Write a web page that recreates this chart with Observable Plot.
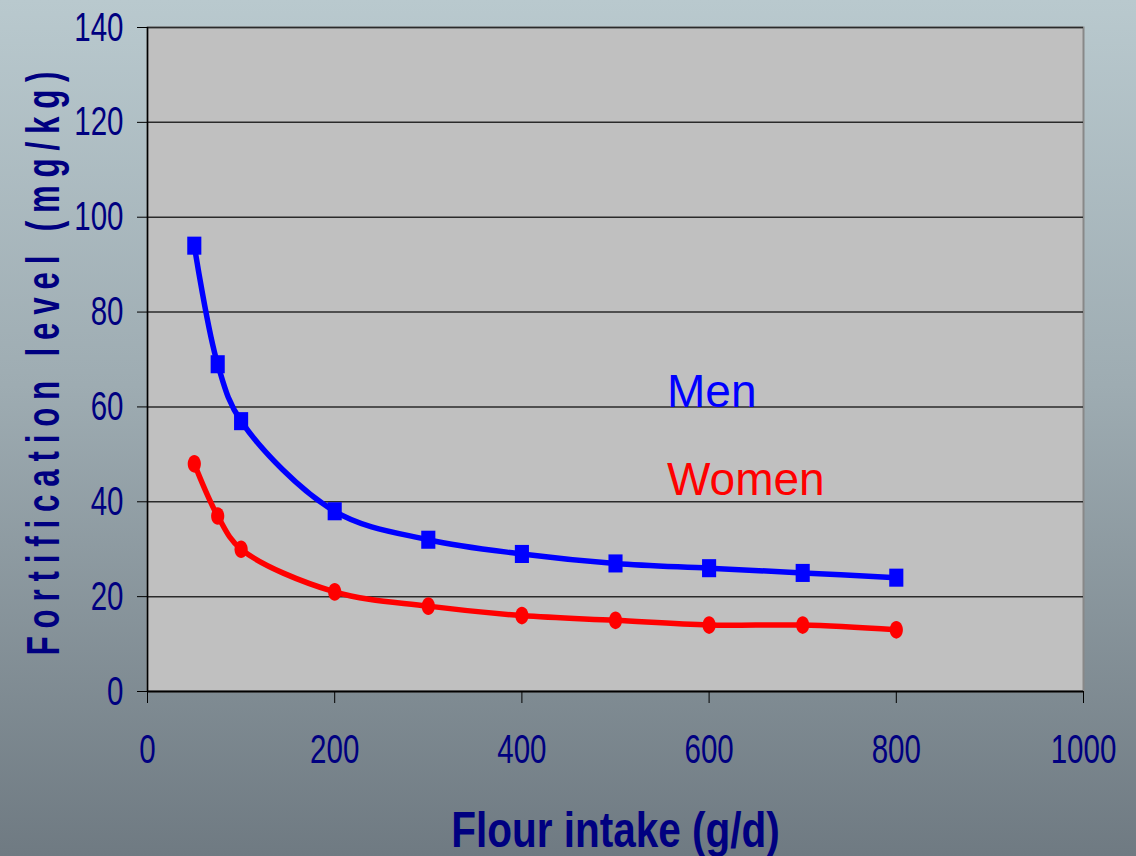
<!DOCTYPE html>
<html>
<head>
<meta charset="utf-8">
<script src="https://cdn.jsdelivr.net/npm/d3@7"></script>
<script src="https://cdn.jsdelivr.net/npm/@observablehq/plot@0.6"></script>
<style>
  html, body { margin: 0; padding: 0; }
  body { width: 1136px; height: 856px; overflow: hidden; }
</style>
</head>
<body>
<div id="chart"></div>
<script>
// Data
const flourIntake = [50, 75, 100, 200, 300, 400, 500, 600, 700, 800];
const menLevel    = [94, 69, 57, 38, 32, 29, 27, 26, 25, 24];
const womenLevel  = [48, 37, 30, 21, 18, 16, 15, 14, 14, 13];
const seriesNames = ["Men", "Women"];
const xTicks = [0, 200, 400, 600, 800, 1000];
const yTicks = [0, 20, 40, 60, 80, 100, 120, 140];
const xTitle = "Flour intake (g/d)";
const yTitle = "Fortification level (mg/kg)";

const men = flourIntake.map((x, i) => ({x, y: menLevel[i]}));
const women = flourIntake.map((x, i) => ({x, y: womenLevel[i]}));

const navy = "#000080";
const sans = "'Liberation Sans', Arial, sans-serif";

// Slightly tall marker shapes, as in the reference
const tallRect = {
  draw(context, size) {
    const r = Math.sqrt(size / Math.PI);
    const w = r * 0.82, h = r * 1.05;
    context.moveTo(-w, -h);
    context.lineTo(w, -h);
    context.lineTo(w, h);
    context.lineTo(-w, h);
    context.closePath();
  }
};
const tallEllipse = {
  draw(context, size) {
    const r = Math.sqrt(size / Math.PI);
    const rx = r * 0.75, ry = r * 1.0, k = 0.5523;
    context.moveTo(0, -ry);
    context.bezierCurveTo(k * rx, -ry, rx, -k * ry, rx, 0);
    context.bezierCurveTo(rx, k * ry, k * rx, ry, 0, ry);
    context.bezierCurveTo(-k * rx, ry, -rx, k * ry, -rx, 0);
    context.bezierCurveTo(-rx, -k * ry, -k * rx, -ry, 0, -ry);
    context.closePath();
  }
};

const plot = Plot.plot({
  width: 1136,
  height: 856,
  marginLeft: 147,
  marginRight: 53,
  marginTop: 27,
  marginBottom: 165,
  style: {
    background: "linear-gradient(to bottom, #b9c9ce 0%, #9eacb2 45%, #6f7a82 100%)",
    fontFamily: sans,
    overflow: "visible"
  },
  x: {domain: [0, 1000], ticks: xTicks},
  y: {domain: [0, 140], ticks: yTicks},
  marks: [
    Plot.frame({fill: "#c0c0c0", stroke: "#888888", strokeWidth: 2}),
    Plot.gridY(yTicks.filter(d => d > 0), {stroke: "#2a2a2a", strokeOpacity: 1, strokeWidth: 1.5}),
    Plot.axisY({
      ticks: yTicks, tickSize: 10, tickPadding: 14, label: null,
      fontSize: 41, color: navy, stroke: "#000", tickFormat: d => String(d),
      className: "narrow"
    }),
    Plot.axisX({
      ticks: xTicks, tickSize: 12, tickPadding: 30, label: null,
      fontSize: 41, color: navy, stroke: "#000", tickFormat: d => String(d),
      className: "narrow"
    }),
    Plot.ruleX([0], {stroke: "#000", strokeWidth: 1.5}),
    Plot.ruleY([0], {stroke: "#000", strokeWidth: 2}),
    Plot.line(men, {x: "x", y: "y", stroke: "#0000ff", strokeWidth: 5.5, curve: "catmull-rom"}),
    Plot.line(women, {x: "x", y: "y", stroke: "#ff0000", strokeWidth: 5.5, curve: "catmull-rom"}),
    Plot.dot(men, {x: "x", y: "y", symbol: tallRect, r: 8.6, fill: "#0000ff", stroke: "none"}),
    Plot.dot(women, {x: "x", y: "y", symbol: tallEllipse, r: 8.8, fill: "#ff0000", stroke: "none"}),
    Plot.text([seriesNames[0]], {
      x: 555, y: 60, text: d => d, fill: "#0000ff", fontSize: 46,
      textAnchor: "start", lineAnchor: "bottom"
    }),
    Plot.text([seriesNames[1]], {
      x: 555, y: 41.5, text: d => d, fill: "#ff0000", fontSize: 46,
      textAnchor: "start", lineAnchor: "bottom"
    }),
    Plot.text([xTitle], {
      frameAnchor: "bottom", text: d => d, dy: 155, lineAnchor: "bottom",
      fontSize: 50, fontWeight: "bold", fill: navy, className: "narrowbold"
    }),
    Plot.text([yTitle], {
      frameAnchor: "left", text: d => d, dx: -89, rotate: -90, textAnchor: "middle",
      lineAnchor: "bottom",
      fontSize: 46, fontWeight: "bold", fill: navy, className: "ytitle"
    })
  ]
});

// Condense tick labels and titles (narrow typeface look)
function condense(sel, s) {
  d3.select(plot).selectAll(sel).each(function() {
    const t = d3.select(this).attr("transform") || "";
    d3.select(this).attr("transform", t + ` scale(${s},1)`);
  });
}
condense(".narrow text", 0.72);
condense(".narrowbold text", 0.81);
condense(".ytitle text", 0.68);
d3.select(plot).selectAll(".ytitle text").attr("letter-spacing", "11.5px");

document.getElementById("chart").appendChild(plot);
</script>
</body>
</html>
